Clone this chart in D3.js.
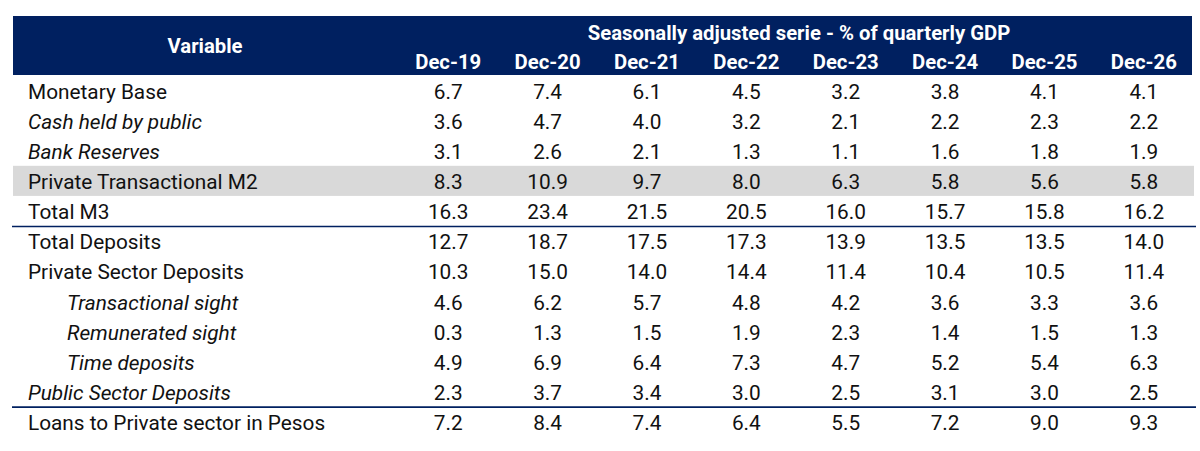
<!DOCTYPE html>
<html>
<head>
<meta charset="utf-8">
<script src="https://cdn.jsdelivr.net/npm/d3@7"></script>
<style>
  body { margin: 0; background: #fff; }
  svg { display: block; font-family: Roboto, "Noto Sans", sans-serif; }
</style>
</head>
<body>
<div id="table"></div>
<script>
// row labels
const variables = [
  "Monetary Base",
  "Cash held by public",
  "Bank Reserves",
  "Private Transactional M2",
  "Total M3",
  "Total Deposits",
  "Private Sector Deposits",
  "Transactional sight",
  "Remunerated sight",
  "Time deposits",
  "Public Sector Deposits",
  "Loans to Private sector in Pesos"
];

const years = ["Dec-19", "Dec-20", "Dec-21", "Dec-22", "Dec-23", "Dec-24", "Dec-25", "Dec-26"];

// one column per year, same order as variables
const dec19 = [6.7, 3.6, 3.1, 8.3, 16.3, 12.7, 10.3, 4.6, 0.3, 4.9, 2.3, 7.2];
const dec20 = [7.4, 4.7, 2.6, 10.9, 23.4, 18.7, 15.0, 6.2, 1.3, 6.9, 3.7, 8.4];
const dec21 = [6.1, 4.0, 2.1, 9.7, 21.5, 17.5, 14.0, 5.7, 1.5, 6.4, 3.4, 7.4];
const dec22 = [4.5, 3.2, 1.3, 8.0, 20.5, 17.3, 14.4, 4.8, 1.9, 7.3, 3.0, 6.4];
const dec23 = [3.2, 2.1, 1.1, 6.3, 16.0, 13.9, 11.4, 4.2, 2.3, 4.7, 2.5, 5.5];
const dec24 = [3.8, 2.2, 1.6, 5.8, 15.7, 13.5, 10.4, 3.6, 1.4, 5.2, 3.1, 7.2];
const dec25 = [4.1, 2.3, 1.8, 5.6, 15.8, 13.5, 10.5, 3.3, 1.5, 5.4, 3.0, 9.0];
const dec26 = [4.1, 2.2, 1.9, 5.8, 16.2, 14.0, 11.4, 3.6, 1.3, 6.3, 2.5, 9.3];

const title = "Seasonally adjusted serie - % of quarterly GDP";
const firstColTitle = "Variable";

const columns = [dec19, dec20, dec21, dec22, dec23, dec24, dec25, dec26];

// styling lookups
const italicRows = new Set(["Cash held by public", "Bank Reserves", "Transactional sight",
  "Remunerated sight", "Time deposits", "Public Sector Deposits"]);
const indentRows = new Set(["Transactional sight", "Remunerated sight", "Time deposits"]);
const shadedRows = new Set(["Private Transactional M2"]);
const ruleAfter = new Set(["Total M3", "Public Sector Deposits"]);

const config = {
  width: 1200,
  height: 451,
  left: 13,
  right: 1194,
  headerTop: 16,
  headerBottom: 75,
  navy: "#002060",
  shade: "#d9d9d9",
  ink: "#111",
  bodySize: 20.8,
  headSize: 20.3
};

const svg = d3.select("#table").append("svg")
  .attr("width", config.width)
  .attr("height", config.height);

const x = d3.scaleBand()
  .domain(years)
  .range([398.5, 1193.5]);

const y = d3.scaleBand()
  .domain(variables)
  .range([76.5, 76.5 + 30.1 * variables.length]);

// header block
svg.append("rect")
  .attr("x", config.left)
  .attr("y", config.headerTop)
  .attr("width", config.right - config.left - 2)
  .attr("height", config.headerBottom - config.headerTop)
  .attr("fill", config.navy);

svg.append("text")
  .attr("x", 205)
  .attr("y", 46)
  .attr("dy", "0.35em")
  .attr("text-anchor", "middle")
  .attr("fill", "#fff")
  .attr("font-weight", "bold")
  .attr("font-size", config.headSize)
  .text(firstColTitle);

svg.append("text")
  .attr("x", (x.range()[0] + x.range()[1]) / 2 + 3)
  .attr("y", 33)
  .attr("dy", "0.35em")
  .attr("text-anchor", "middle")
  .attr("fill", "#fff")
  .attr("font-weight", "bold")
  .attr("font-size", config.headSize)
  .text(title);

svg.selectAll("text.year")
  .data(years)
  .join("text")
  .attr("class", "year")
  .attr("x", d => x(d) + x.bandwidth() / 2)
  .attr("y", 62)
  .attr("dy", "0.35em")
  .attr("text-anchor", "middle")
  .attr("fill", "#fff")
  .attr("font-weight", "bold")
  .attr("font-size", config.headSize)
  .text(d => d);

// shaded rows
svg.selectAll("rect.shade")
  .data(variables.filter(v => shadedRows.has(v)))
  .join("rect")
  .attr("class", "shade")
  .attr("x", config.left)
  .attr("y", d => y(d) - 1)
  .attr("width", config.right - config.left)
  .attr("height", y.bandwidth())
  .attr("fill", config.shade);

// row labels
svg.selectAll("text.label")
  .data(variables)
  .join("text")
  .attr("class", "label")
  .attr("x", d => indentRows.has(d) ? 67 : 28)
  .attr("y", d => y(d) + y.bandwidth() / 2)
  .attr("dy", "0.35em")
  .attr("fill", config.ink)
  .attr("font-size", config.bodySize)
  .attr("font-style", d => italicRows.has(d) ? "italic" : "normal")
  .text(d => d);

// value cells
const cells = [];
years.forEach((yr, j) => {
  variables.forEach((v, i) => {
    cells.push({ year: yr, variable: v, value: columns[j][i] });
  });
});

svg.selectAll("text.cell")
  .data(cells)
  .join("text")
  .attr("class", "cell")
  .attr("x", d => x(d.year) + x.bandwidth() / 2)
  .attr("y", d => y(d.variable) + y.bandwidth() / 2)
  .attr("dy", "0.35em")
  .attr("text-anchor", "middle")
  .attr("fill", config.ink)
  .attr("font-size", config.bodySize)
  .text(d => d3.format(".1f")(d.value));

// separator rules
svg.selectAll("line.rule")
  .data(variables.filter(v => ruleAfter.has(v)))
  .join("line")
  .attr("class", "rule")
  .attr("x1", 12)
  .attr("x2", 1196)
  .attr("y1", d => y(d) + y.bandwidth() - 0.5)
  .attr("y2", d => y(d) + y.bandwidth() - 0.5)
  .attr("stroke", config.navy)
  .attr("stroke-width", 1.6);
</script>
</body>
</html>
